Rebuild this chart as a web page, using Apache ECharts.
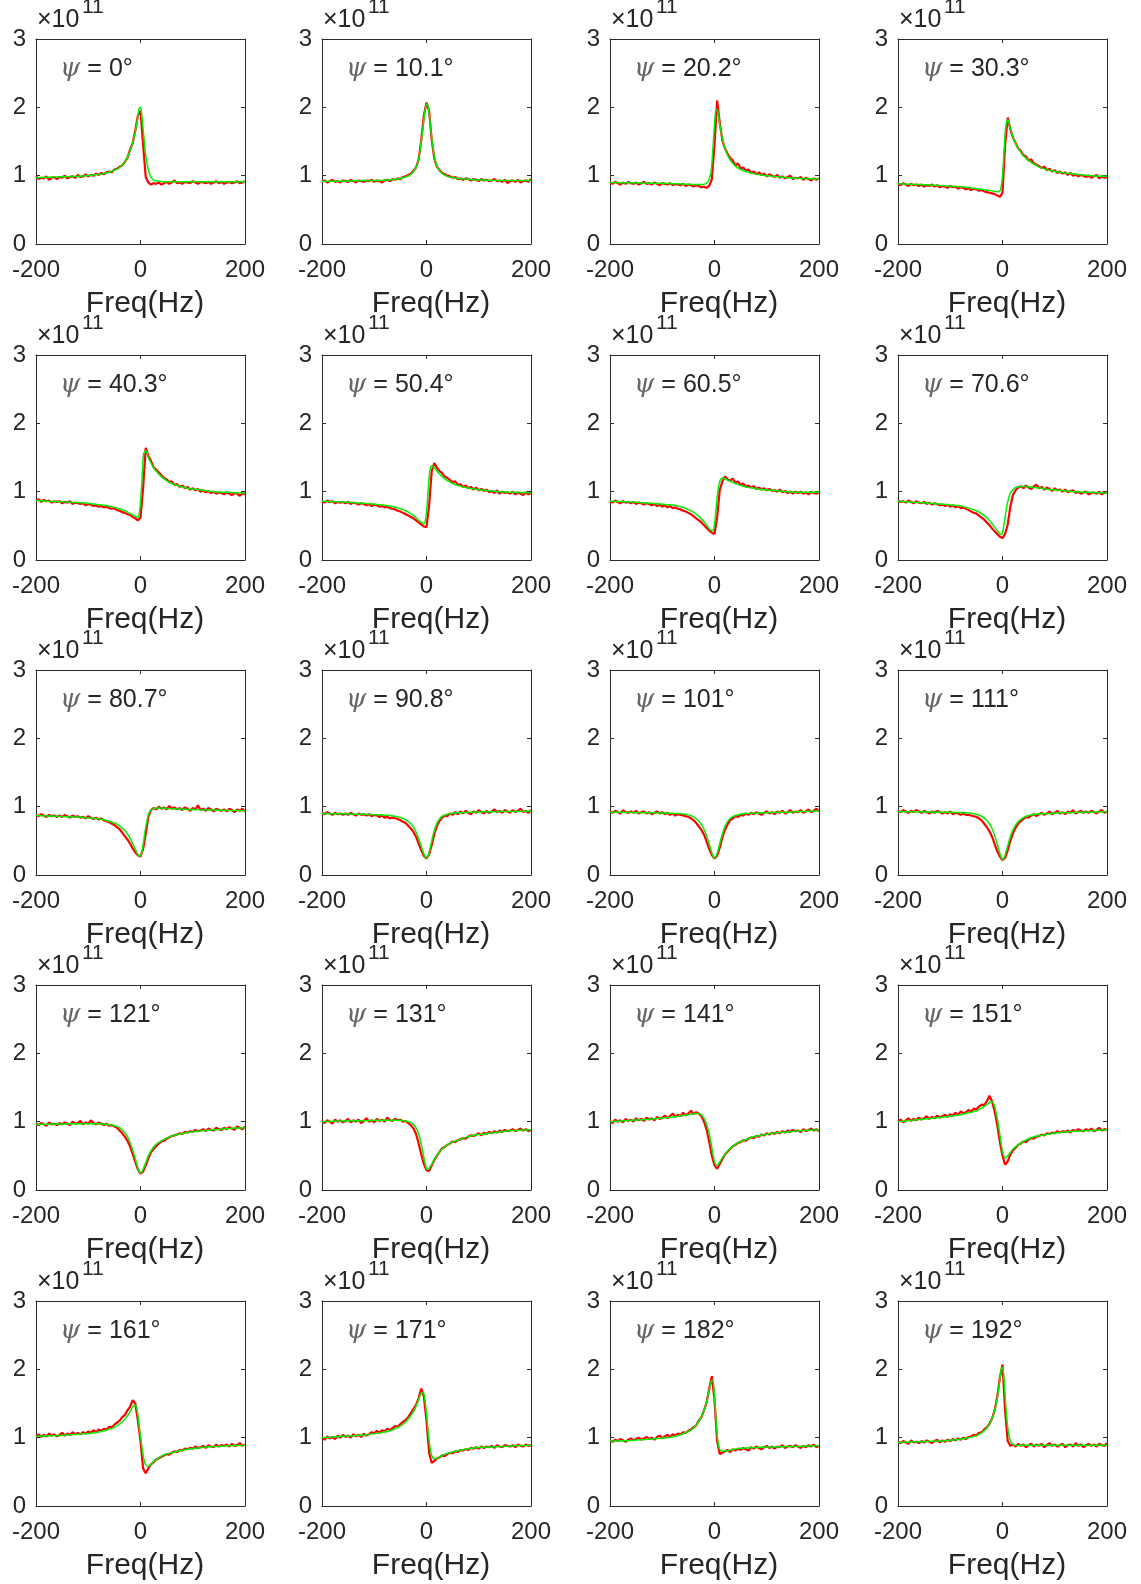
<!DOCTYPE html>
<html>
<head>
<meta charset="utf-8">
<script src="https://cdn.jsdelivr.net/npm/echarts@6/dist/echarts.min.js"></script>
<style>
html,body{margin:0;padding:0;background:#fff;}
#chart{width:1141px;height:1584px;}
</style>
</head>
<body>
<div id="chart"></div>
<script>
// ---- data (values in units of 1e11) ----
const PSI_LABELS = ['0°','10.1°','20.2°','30.3°','40.3°','50.4°','60.5°','70.6°','80.7°','90.8°','101°','111°','121°','131°','141°','151°','161°','171°','182°','192°'];
const X_TICKS = [-200, 0, 200];
const Y_TICKS = [0, 1, 2, 3];

// frequency grid of the fitted (green) curves
const FIT_X = [-200,-160,-120,-90,-70,-50,-40,-30,-25,-20,-15,-10,-6,-3,0,3,6,10,15,20,25,30,40,50,60,75,90,110,140,170,200];
// frequency grid of the measured (red) curves
const DATA_X = [
-200,-195,-190,-185,-180,-175,-170,-165,-160,
-155,-150,-145,-140,-135,-130,-125,-120,-115,
-110,-105,-100,-95,-90,-85,-80,-75,-70,
-65,-60,-55,-50,-45,-40,-35,-30,-25,
-20,-15,-10,-5,0,5,10,15,20,
25,30,35,40,45,50,55,60,65,
70,75,80,85,90,95,100,105,110,
115,120,125,130,135,140,145,150,155,
160,165,170,175,180,185,190,195,200];

const FIT_01 = [0.97,0.98,0.99,1.01,1.03,1.08,1.12,1.20,1.27,1.36,1.48,1.64,1.82,1.97,2.00,1.85,1.60,1.30,1.08,0.98,0.94,0.925,0.915,0.91,0.91,0.91,0.91,0.91,0.91,0.91,0.91];
const FIT_02 = [0.92,0.92,0.93,0.93,0.94,0.96,0.98,1.02,1.06,1.12,1.25,1.50,1.75,1.95,2.05,2.02,1.85,1.55,1.28,1.14,1.07,1.03,0.99,0.97,0.96,0.95,0.94,0.935,0.93,0.93,0.93];
const FIT_03 = [0.90,0.895,0.89,0.885,0.88,0.875,0.87,0.87,0.87,0.875,0.89,0.95,1.10,1.40,1.75,1.97,1.95,1.75,1.55,1.40,1.30,1.23,1.14,1.09,1.06,1.03,1.01,0.99,0.97,0.96,0.95];
const FIT_04 = [0.88,0.87,0.855,0.84,0.83,0.81,0.80,0.79,0.785,0.78,0.77,0.765,0.77,0.82,1.00,1.35,1.70,1.82,1.70,1.57,1.47,1.40,1.29,1.22,1.17,1.11,1.08,1.05,1.02,1.00,0.99];
const FIT_05 = [0.87,0.855,0.84,0.82,0.80,0.77,0.75,0.72,0.70,0.68,0.66,0.64,0.63,0.65,0.85,1.20,1.55,1.60,1.50,1.42,1.35,1.30,1.22,1.16,1.12,1.08,1.05,1.03,1.00,0.99,0.98];
const FIT_06 = [0.86,0.85,0.83,0.81,0.79,0.75,0.72,0.68,0.65,0.62,0.58,0.55,0.53,0.55,0.70,1.00,1.28,1.38,1.35,1.30,1.26,1.22,1.16,1.12,1.09,1.06,1.04,1.02,1.00,0.99,0.985];
const FIT_07 = [0.86,0.85,0.83,0.81,0.79,0.74,0.70,0.64,0.60,0.56,0.51,0.46,0.43,0.43,0.52,0.75,0.98,1.15,1.20,1.19,1.17,1.15,1.12,1.09,1.07,1.05,1.03,1.02,1.00,0.99,0.99];
const FIT_08 = [0.86,0.84,0.82,0.80,0.77,0.72,0.68,0.62,0.58,0.53,0.48,0.43,0.39,0.37,0.40,0.52,0.68,0.85,0.98,1.03,1.06,1.07,1.08,1.07,1.06,1.05,1.03,1.02,1.00,0.99,0.98];
const FIT_09 = [0.87,0.86,0.85,0.83,0.81,0.76,0.72,0.65,0.60,0.54,0.46,0.38,0.31,0.28,0.28,0.35,0.50,0.70,0.88,0.95,0.97,0.98,0.98,0.975,0.97,0.965,0.96,0.955,0.95,0.945,0.94];
const FIT_10 = [0.90,0.895,0.89,0.88,0.87,0.84,0.81,0.75,0.70,0.63,0.53,0.42,0.33,0.27,0.25,0.28,0.36,0.50,0.65,0.76,0.82,0.86,0.89,0.905,0.91,0.915,0.92,0.925,0.93,0.93,0.935];
const FIT_11 = [0.92,0.915,0.91,0.905,0.90,0.88,0.85,0.79,0.74,0.67,0.57,0.45,0.35,0.28,0.25,0.27,0.34,0.46,0.60,0.71,0.78,0.83,0.87,0.89,0.90,0.905,0.91,0.915,0.92,0.93,0.935];
const FIT_12 = [0.93,0.925,0.92,0.915,0.91,0.89,0.86,0.80,0.75,0.68,0.58,0.45,0.34,0.27,0.23,0.25,0.32,0.43,0.56,0.66,0.73,0.78,0.84,0.87,0.885,0.895,0.90,0.91,0.915,0.92,0.925];
const FIT_13 = [0.96,0.965,0.97,0.97,0.965,0.94,0.91,0.84,0.78,0.70,0.59,0.46,0.35,0.28,0.25,0.27,0.32,0.40,0.50,0.57,0.63,0.67,0.72,0.76,0.79,0.82,0.84,0.86,0.88,0.90,0.91];
const FIT_14 = [1.00,1.01,1.015,1.02,1.02,1.02,1.01,0.99,0.96,0.91,0.82,0.67,0.52,0.40,0.32,0.30,0.33,0.38,0.45,0.51,0.56,0.60,0.66,0.70,0.73,0.77,0.80,0.82,0.85,0.87,0.88];
const FIT_15 = [1.00,1.02,1.04,1.06,1.08,1.10,1.115,1.12,1.10,1.05,0.96,0.82,0.66,0.52,0.42,0.37,0.37,0.41,0.47,0.52,0.57,0.61,0.67,0.71,0.74,0.78,0.80,0.83,0.85,0.87,0.88];
const FIT_16 = [1.00,1.03,1.06,1.09,1.12,1.16,1.20,1.25,1.28,1.29,1.22,1.05,0.86,0.70,0.57,0.49,0.47,0.50,0.55,0.60,0.63,0.66,0.71,0.75,0.78,0.80,0.82,0.84,0.86,0.87,0.88];
const FIT_17 = [1.02,1.03,1.05,1.07,1.10,1.15,1.20,1.27,1.32,1.38,1.45,1.48,1.38,1.20,1.02,0.85,0.70,0.60,0.58,0.61,0.65,0.68,0.73,0.76,0.78,0.81,0.83,0.85,0.87,0.88,0.89];
const FIT_18 = [1.00,1.02,1.04,1.07,1.10,1.17,1.23,1.32,1.38,1.46,1.56,1.65,1.66,1.55,1.35,1.10,0.90,0.74,0.69,0.70,0.72,0.74,0.77,0.79,0.81,0.83,0.85,0.86,0.87,0.88,0.89];
const FIT_19 = [0.95,0.96,0.98,1.00,1.03,1.09,1.14,1.24,1.31,1.40,1.53,1.70,1.83,1.84,1.60,1.25,0.98,0.83,0.80,0.805,0.81,0.82,0.835,0.845,0.85,0.855,0.86,0.865,0.87,0.875,0.88];
const FIT_20 = [0.93,0.94,0.95,0.97,0.99,1.03,1.07,1.14,1.20,1.28,1.40,1.58,1.80,1.98,2.03,1.85,1.50,1.15,0.95,0.90,0.89,0.89,0.89,0.89,0.89,0.89,0.89,0.89,0.89,0.89,0.89];

const DATA_01 = [
0.99,0.95,0.97,0.96,0.99,0.94,0.97,0.98,0.95,
0.98,0.97,1.00,0.96,0.98,0.99,0.97,1.01,0.98,
0.99,1.02,0.99,1.01,1.00,1.03,1.01,1.04,1.02,
1.05,1.06,1.05,1.09,1.10,1.13,1.15,1.20,1.26,
1.38,1.47,1.66,1.88,1.95,1.45,0.98,0.90,0.87,
0.89,0.88,0.90,0.87,0.89,0.91,0.88,0.90,0.93,
0.89,0.90,0.88,0.91,0.90,0.89,0.92,0.90,0.88,
0.91,0.90,0.89,0.91,0.88,0.90,0.92,0.89,0.91,
0.88,0.90,0.91,0.89,0.90,0.92,0.89,0.90,0.92];
const DATA_02 = [
0.91,0.93,0.90,0.92,0.94,0.91,0.92,0.90,0.93,
0.92,0.91,0.94,0.92,0.90,0.93,0.92,0.91,0.93,
0.92,0.94,0.91,0.93,0.92,0.90,0.93,0.94,0.92,
0.95,0.94,0.96,0.95,0.98,0.99,1.01,1.03,1.07,
1.12,1.24,1.52,1.88,2.07,1.95,1.52,1.25,1.13,
1.08,1.04,1.02,1.00,0.99,0.97,0.98,0.95,0.96,
0.94,0.96,0.95,0.93,0.95,0.94,0.92,0.95,0.93,
0.94,0.92,0.93,0.95,0.92,0.93,0.91,0.94,0.89,
0.92,0.93,0.91,0.94,0.90,0.92,0.93,0.91,0.95];
const DATA_03 = [
0.90,0.88,0.91,0.89,0.87,0.90,0.88,0.91,0.89,
0.88,0.90,0.87,0.89,0.91,0.88,0.89,0.87,0.90,
0.88,0.86,0.89,0.88,0.87,0.89,0.86,0.88,0.87,
0.86,0.88,0.85,0.87,0.86,0.84,0.86,0.85,0.83,
0.84,0.82,0.85,0.95,1.45,2.10,1.78,1.52,1.40,
1.32,1.26,1.22,1.15,1.18,1.10,1.12,1.07,1.09,
1.04,1.06,1.02,1.05,1.01,1.03,0.99,1.02,1.00,
0.98,1.01,0.97,0.99,0.96,0.98,1.00,0.95,0.97,
0.96,0.98,0.94,0.97,0.95,0.93,0.96,0.94,0.96];
const DATA_04 = [
0.88,0.86,0.89,0.87,0.85,0.88,0.86,0.87,0.85,
0.87,0.84,0.86,0.85,0.87,0.84,0.86,0.83,0.85,
0.84,0.82,0.85,0.83,0.84,0.81,0.83,0.82,0.80,
0.82,0.79,0.81,0.80,0.78,0.79,0.77,0.76,0.75,
0.74,0.73,0.71,0.69,0.75,1.45,1.85,1.68,1.56,
1.48,1.40,1.36,1.30,1.28,1.22,1.24,1.18,1.16,
1.14,1.11,1.13,1.08,1.10,1.06,1.08,1.04,1.06,
1.03,1.05,1.01,1.04,1.00,1.02,0.99,1.01,1.00,
0.98,1.00,0.97,0.99,1.01,0.96,0.99,0.97,0.98];
const DATA_05 = [
0.87,0.89,0.85,0.88,0.86,0.87,0.84,0.86,0.85,
0.86,0.83,0.85,0.84,0.86,0.82,0.84,0.83,0.82,
0.83,0.80,0.82,0.81,0.79,0.80,0.78,0.79,0.77,
0.78,0.76,0.75,0.76,0.73,0.72,0.70,0.69,0.67,
0.66,0.63,0.61,0.58,0.62,1.05,1.64,1.52,1.45,
1.36,1.32,1.28,1.24,1.20,1.18,1.14,1.15,1.10,
1.11,1.07,1.09,1.05,1.07,1.03,1.05,1.02,1.04,
1.00,1.02,0.99,1.01,0.98,1.00,0.97,0.99,0.98,
0.96,0.99,0.97,0.95,0.98,0.97,0.94,0.98,0.96];
const DATA_06 = [
0.86,0.84,0.87,0.85,0.86,0.83,0.85,0.84,0.85,
0.83,0.85,0.82,0.84,0.83,0.81,0.83,0.82,0.80,
0.82,0.79,0.81,0.80,0.78,0.79,0.77,0.78,0.76,
0.75,0.74,0.72,0.71,0.69,0.67,0.65,0.63,0.61,
0.58,0.55,0.52,0.49,0.48,0.80,1.30,1.42,1.35,
1.30,1.27,1.22,1.20,1.17,1.14,1.15,1.10,1.11,
1.07,1.09,1.05,1.07,1.03,1.06,1.02,1.04,1.01,
1.03,0.99,1.01,0.98,1.02,0.97,1.00,0.98,0.99,
0.97,1.00,0.96,0.99,0.97,0.95,0.99,0.96,0.98];
const DATA_07 = [
0.86,0.84,0.87,0.85,0.83,0.86,0.84,0.85,0.83,
0.85,0.82,0.84,0.83,0.81,0.83,0.82,0.80,0.82,
0.79,0.81,0.78,0.80,0.77,0.79,0.76,0.77,0.75,
0.74,0.72,0.71,0.69,0.67,0.64,0.61,0.58,0.55,
0.51,0.47,0.43,0.40,0.38,0.62,1.02,1.15,1.22,
1.18,1.16,1.19,1.13,1.15,1.10,1.12,1.07,1.09,
1.06,1.08,1.04,1.06,1.03,1.05,1.02,1.04,1.01,
1.02,1.00,1.03,0.99,1.01,0.98,1.00,0.97,1.00,
0.98,1.00,0.97,0.99,0.96,1.00,0.98,0.97,0.99];
const DATA_08 = [
0.87,0.85,0.86,0.84,0.87,0.85,0.83,0.86,0.84,
0.83,0.85,0.82,0.84,0.81,0.83,0.82,0.80,0.81,
0.79,0.81,0.78,0.80,0.77,0.79,0.76,0.77,0.75,
0.73,0.71,0.69,0.68,0.65,0.62,0.59,0.55,0.51,
0.46,0.42,0.38,0.34,0.32,0.38,0.52,0.78,0.95,
1.02,1.06,1.08,1.05,1.09,1.06,1.04,1.08,1.10,
1.05,1.07,1.03,1.06,1.04,1.01,1.05,1.02,1.03,
1.00,1.03,0.99,1.01,1.02,0.98,1.00,0.97,0.99,
1.00,0.96,0.98,0.99,0.97,1.00,0.96,0.98,0.99];
const DATA_09 = [
0.88,0.86,0.89,0.87,0.85,0.88,0.86,0.87,0.85,
0.87,0.85,0.88,0.86,0.84,0.87,0.85,0.86,0.84,
0.85,0.83,0.86,0.84,0.82,0.84,0.81,0.83,0.80,
0.79,0.77,0.75,0.73,0.70,0.67,0.62,0.57,0.52,
0.46,0.39,0.33,0.29,0.27,0.38,0.60,0.85,0.95,
0.98,0.96,1.00,0.97,0.99,0.96,1.01,0.97,0.99,
0.96,0.98,0.95,0.99,0.97,0.94,0.98,0.96,1.02,
0.95,0.97,0.94,0.98,0.96,0.93,0.97,0.95,0.94,
0.96,0.93,0.97,0.95,0.92,0.96,0.94,0.97,0.93];
const DATA_10 = [
0.91,0.89,0.92,0.90,0.88,0.91,0.89,0.90,0.88,
0.90,0.88,0.91,0.89,0.87,0.90,0.88,0.89,0.87,
0.89,0.86,0.88,0.87,0.85,0.87,0.84,0.85,0.83,
0.84,0.83,0.82,0.80,0.78,0.76,0.72,0.68,0.63,
0.56,0.46,0.36,0.28,0.24,0.30,0.44,0.60,0.72,
0.79,0.84,0.87,0.86,0.90,0.88,0.92,0.89,0.93,
0.90,0.94,0.91,0.89,0.93,0.91,0.95,0.92,0.90,
0.94,0.91,0.93,0.96,0.92,0.94,0.91,0.95,0.93,
0.91,0.95,0.92,0.94,0.97,0.92,0.94,0.91,0.95];
const DATA_11 = [
0.93,0.91,0.94,0.92,0.90,0.95,0.92,0.91,0.93,
0.91,0.94,0.90,0.92,0.93,0.90,0.92,0.89,0.91,
0.93,0.90,0.92,0.89,0.91,0.88,0.90,0.87,0.89,
0.88,0.87,0.86,0.85,0.83,0.80,0.76,0.71,0.66,
0.59,0.49,0.38,0.29,0.24,0.28,0.40,0.55,0.66,
0.74,0.80,0.83,0.86,0.85,0.88,0.87,0.90,0.88,
0.91,0.89,0.92,0.90,0.88,0.91,0.93,0.90,0.92,
0.89,0.93,0.91,0.94,0.90,0.92,0.95,0.91,0.93,
0.92,0.95,0.91,0.93,0.96,0.92,0.94,0.97,0.93];
const DATA_12 = [
0.94,0.92,0.95,0.93,0.91,0.94,0.92,0.95,0.93,
0.91,0.94,0.92,0.90,0.93,0.91,0.94,0.92,0.90,
0.92,0.90,0.93,0.89,0.91,0.90,0.88,0.90,0.88,
0.88,0.87,0.86,0.85,0.83,0.80,0.75,0.70,0.64,
0.56,0.45,0.35,0.27,0.22,0.25,0.36,0.50,0.61,
0.69,0.75,0.79,0.82,0.85,0.84,0.87,0.89,0.86,
0.89,0.91,0.88,0.90,0.93,0.89,0.91,0.94,0.90,
0.92,0.89,0.93,0.91,0.95,0.90,0.92,0.94,0.91,
0.93,0.91,0.94,0.92,0.90,0.93,0.95,0.91,0.93];
const DATA_13 = [
0.97,0.95,0.98,0.96,0.94,0.99,0.96,0.97,0.95,
0.98,0.96,0.99,0.97,0.95,1.00,0.97,0.98,1.01,
0.96,0.99,0.97,1.02,0.98,0.96,0.99,0.97,0.95,
0.97,0.94,0.95,0.93,0.91,0.87,0.83,0.78,0.72,
0.64,0.53,0.41,0.30,0.24,0.27,0.36,0.46,0.55,
0.60,0.64,0.68,0.71,0.72,0.75,0.77,0.79,0.80,
0.81,0.83,0.82,0.85,0.84,0.86,0.85,0.88,0.86,
0.87,0.89,0.86,0.90,0.88,0.87,0.91,0.89,0.88,
0.91,0.89,0.92,0.90,0.88,0.93,0.91,0.89,0.93];
const DATA_14 = [
1.01,0.98,1.02,1.00,0.97,1.03,1.00,1.02,0.99,
1.01,1.04,0.99,1.02,1.00,1.03,0.98,1.01,1.05,
1.00,1.02,0.99,1.04,1.01,1.03,1.00,1.06,1.02,
1.01,1.04,1.02,1.03,1.00,1.01,0.98,0.95,0.90,
0.82,0.68,0.52,0.38,0.29,0.28,0.36,0.44,0.50,
0.56,0.61,0.63,0.66,0.68,0.71,0.70,0.73,0.74,
0.76,0.75,0.78,0.80,0.79,0.81,0.83,0.80,0.84,
0.82,0.85,0.83,0.86,0.84,0.87,0.85,0.88,0.86,
0.87,0.89,0.86,0.88,0.90,0.87,0.89,0.86,0.88];
const DATA_15 = [
1.01,0.98,1.03,1.00,1.02,0.99,1.04,1.01,1.03,
1.00,1.05,1.02,1.04,1.01,1.06,1.03,1.05,1.02,
1.07,1.04,1.06,1.09,1.05,1.08,1.12,1.07,1.10,
1.08,1.13,1.09,1.12,1.16,1.11,1.14,1.12,1.08,
1.00,0.88,0.70,0.50,0.36,0.31,0.38,0.45,0.52,
0.56,0.60,0.64,0.66,0.69,0.70,0.73,0.72,0.75,
0.77,0.76,0.79,0.78,0.81,0.80,0.83,0.81,0.84,
0.82,0.85,0.83,0.86,0.84,0.87,0.85,0.88,0.86,
0.87,0.85,0.89,0.86,0.88,0.90,0.87,0.89,0.86];
const DATA_16 = [
1.00,1.03,0.99,1.02,1.05,1.01,1.04,1.02,1.06,
1.03,1.05,1.08,1.04,1.07,1.05,1.09,1.06,1.08,
1.10,1.07,1.11,1.09,1.13,1.10,1.15,1.12,1.14,
1.17,1.15,1.19,1.18,1.22,1.25,1.24,1.30,1.38,
1.30,1.15,0.95,0.70,0.50,0.37,0.42,0.52,0.58,
0.62,0.66,0.68,0.71,0.70,0.74,0.76,0.75,0.78,
0.79,0.81,0.80,0.83,0.82,0.84,0.83,0.86,0.84,
0.86,0.85,0.87,0.84,0.88,0.86,0.89,0.87,0.86,
0.89,0.87,0.90,0.86,0.88,0.91,0.87,0.89,0.88];
const DATA_17 = [
1.02,1.05,1.01,1.04,1.02,1.06,1.03,1.05,1.02,
1.04,1.07,1.03,1.06,1.04,1.08,1.05,1.07,1.05,
1.08,1.06,1.09,1.07,1.11,1.08,1.12,1.10,1.13,
1.12,1.16,1.15,1.19,1.22,1.25,1.30,1.33,1.40,
1.45,1.55,1.50,1.25,0.95,0.55,0.48,0.55,0.61,
0.64,0.68,0.70,0.72,0.74,0.76,0.75,0.78,0.80,
0.79,0.82,0.81,0.84,0.83,0.85,0.84,0.87,0.85,
0.86,0.88,0.85,0.89,0.87,0.86,0.90,0.87,0.89,
0.88,0.90,0.87,0.91,0.88,0.89,0.92,0.88,0.90];
const DATA_18 = [
1.00,0.97,1.02,0.99,1.01,0.98,1.03,1.00,1.04,
1.01,1.03,1.00,1.05,1.02,1.04,1.01,1.06,1.03,
1.05,1.08,1.06,1.10,1.07,1.11,1.09,1.13,1.11,
1.14,1.17,1.16,1.20,1.23,1.26,1.30,1.36,1.42,
1.48,1.58,1.72,1.60,1.25,0.78,0.63,0.66,0.70,
0.71,0.74,0.73,0.76,0.78,0.77,0.80,0.79,0.82,
0.81,0.83,0.82,0.85,0.84,0.86,0.84,0.87,0.85,
0.87,0.86,0.88,0.85,0.89,0.87,0.86,0.89,0.88,
0.87,0.89,0.86,0.90,0.88,0.87,0.90,0.88,0.89];
const DATA_19 = [
0.96,0.94,0.97,0.95,0.98,0.96,0.94,0.97,0.99,
0.96,0.98,1.00,0.97,0.99,1.01,0.98,1.00,0.97,
1.01,1.03,0.99,1.02,1.04,1.01,1.05,1.03,1.06,
1.05,1.08,1.07,1.10,1.12,1.15,1.18,1.25,1.30,
1.40,1.52,1.72,1.90,1.55,0.95,0.76,0.78,0.80,
0.82,0.79,0.83,0.81,0.84,0.82,0.85,0.83,0.81,
0.86,0.84,0.87,0.85,0.83,0.86,0.88,0.85,0.87,
0.84,0.87,0.86,0.89,0.85,0.87,0.88,0.86,0.89,
0.87,0.85,0.88,0.86,0.89,0.87,0.90,0.86,0.88];
const DATA_20 = [
0.94,0.92,0.95,0.93,0.91,0.96,0.93,0.94,0.92,
0.95,0.93,0.96,0.94,0.92,0.95,0.97,0.93,0.96,
0.94,0.97,0.95,0.98,0.96,0.99,0.97,1.00,0.98,
1.01,1.02,1.04,1.03,1.07,1.08,1.12,1.15,1.20,
1.28,1.40,1.60,1.88,2.07,1.40,0.95,0.88,0.90,
0.87,0.91,0.88,0.90,0.86,0.89,0.91,0.87,0.90,
0.88,0.91,0.86,0.89,0.92,0.88,0.90,0.87,0.89,
0.91,0.86,0.89,0.90,0.87,0.92,0.88,0.90,0.86,
0.89,0.91,0.88,0.90,0.87,0.91,0.89,0.88,0.92];

const FITS = [FIT_01,FIT_02,FIT_03,FIT_04,FIT_05,FIT_06,FIT_07,FIT_08,FIT_09,FIT_10,FIT_11,FIT_12,FIT_13,FIT_14,FIT_15,FIT_16,FIT_17,FIT_18,FIT_19,FIT_20];
const DATAS = [DATA_01,DATA_02,DATA_03,DATA_04,DATA_05,DATA_06,DATA_07,DATA_08,DATA_09,DATA_10,DATA_11,DATA_12,DATA_13,DATA_14,DATA_15,DATA_16,DATA_17,DATA_18,DATA_19,DATA_20];

// ---- layout ----
const COL_L = [36, 322, 610, 898];
const ROW_T = [39, 355, 670, 985, 1301];
const PW = 209, PH = 205;
const TXT = '#262626';
const AX = '#2b2b2b';
const FONT = 'Liberation Sans, Arial, Helvetica, sans-serif';

const grids = [], xAxes = [], yAxes = [], series = [], titles = [];
for (let i = 0; i < 20; i++) {
  const r = Math.floor(i / 4), c = i % 4;
  const L = COL_L[c], T = ROW_T[r];
  grids.push({left: L, top: T, width: PW, height: PH, show: false, containLabel: false, outerBoundsMode: 'none'});
  const axLine = {show: true, onZero: false, lineStyle: {color: AX, width: 1}};
  const tick = {show: true, inside: true, length: 4, lineStyle: {color: AX, width: 1}};
  xAxes.push({
    gridIndex: i, type: 'value', position: 'bottom',
    min: X_TICKS[0], max: X_TICKS[X_TICKS.length - 1], interval: X_TICKS[1] - X_TICKS[0],
    name: 'Freq(Hz)', nameLocation: 'middle', nameGap: 45,
    nameTextStyle: {fontSize: 30, color: TXT, fontFamily: FONT, padding: [0, 0, 0, 9]},
    axisLine: axLine, axisTick: tick,
    axisLabel: {fontSize: 24, color: TXT, fontFamily: FONT, margin: 14},
    splitLine: {show: false}
  });
  xAxes.push({
    gridIndex: i, type: 'value', position: 'top',
    min: X_TICKS[0], max: X_TICKS[X_TICKS.length - 1], interval: X_TICKS[1] - X_TICKS[0],
    axisLine: axLine, axisTick: tick, axisLabel: {show: false}, splitLine: {show: false}
  });
  yAxes.push({
    gridIndex: i, type: 'value', position: 'left',
    min: Y_TICKS[0], max: Y_TICKS[Y_TICKS.length - 1], interval: Y_TICKS[1] - Y_TICKS[0],
    axisLine: axLine, axisTick: tick,
    axisLabel: {fontSize: 24, color: TXT, fontFamily: FONT, margin: 10},
    splitLine: {show: false}
  });
  yAxes.push({
    gridIndex: i, type: 'value', position: 'right',
    min: Y_TICKS[0], max: Y_TICKS[Y_TICKS.length - 1], interval: Y_TICKS[1] - Y_TICKS[0],
    axisLine: axLine, axisTick: tick, axisLabel: {show: false}, splitLine: {show: false}
  });
  series.push({
    type: 'line', xAxisIndex: 2 * i, yAxisIndex: 2 * i,
    data: DATA_X.map((x, k) => [x, DATAS[i][k]]),
    symbol: 'none', showSymbol: false, silent: true, z: 2,
    lineStyle: {color: '#ff0000', width: 2.2}
  });
  series.push({
    type: 'line', xAxisIndex: 2 * i, yAxisIndex: 2 * i,
    data: FIT_X.map((x, k) => [x, FITS[i][k]]),
    symbol: 'none', showSymbol: false, silent: true, z: 3, smooth: 0.3,
    lineStyle: {color: '#00f000', width: 1.5}
  });
  titles.push({
    text: '{p|ψ} = ' + PSI_LABELS[i], left: L + 24, top: T + 17,
    padding: 0,
    textStyle: {fontSize: 25, fontWeight: 'normal', color: TXT, fontFamily: FONT,
      rich: {p: {fontSize: 26, fontStyle: 'italic', fontFamily: 'DejaVu Serif, serif', color: '#666', fontWeight: 'normal'}}}
  });
  titles.push({
    text: '×10', left: L + 1, top: T - 31, padding: 0,
    textStyle: {fontSize: 25, fontWeight: 'normal', color: TXT, fontFamily: FONT}
  });
  titles.push({
    text: '11', left: L + 46, top: T - 42, padding: 0,
    textStyle: {fontSize: 21, fontWeight: 'normal', color: TXT, fontFamily: FONT}
  });
}

const chart = echarts.init(document.getElementById('chart'), null, {renderer: 'canvas'});
chart.setOption({
  animation: false,
  backgroundColor: '#ffffff',
  title: titles,
  grid: grids,
  xAxis: xAxes,
  yAxis: yAxes,
  series: series
});
</script>
</body>
</html>
